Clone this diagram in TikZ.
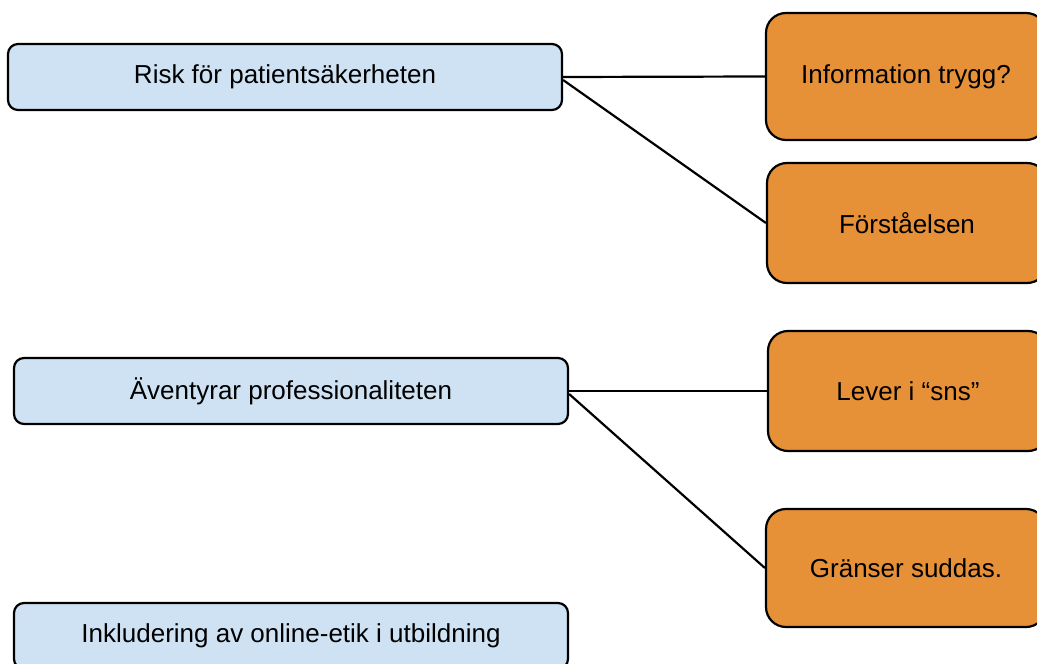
\documentclass[tikz,border=0pt]{standalone}
\usepackage{fontspec}
\setmainfont{Liberation Sans}
\usetikzlibrary{positioning}
\definecolor{riskblue}{RGB}{207, 226, 243}
\definecolor{causeorange}{RGB}{230, 145, 56}

\begin{document}
\begin{tikzpicture}[
        x=0.5pt, y=-0.5pt,
        topic/.style={rectangle, draw, line width=1.1pt, rounded corners=5pt, fill=riskblue, minimum width=277pt, minimum height=33pt, inner sep=0pt, font=\fontsize{13}{15}\selectfont},
        cause/.style={rectangle, draw, line width=1.1pt, rounded corners=10pt, fill=causeorange, minimum width=140pt, minimum height=60pt, inner sep=0pt, font=\fontsize{13}{15}\selectfont},
        link/.style={line width=1.1pt}
    ]
        \useasboundingbox (0,0) rectangle (1037,663);
        \clip (0,0) rectangle (1037,663);

        \node[topic] (risk) at (285,77) {\raisebox{-1pt}{Risk för patientsäkerheten}};
        \node[topic] (prof) at (291,391) {\raisebox{-1pt}{Äventyrar professionaliteten}};
        \node[topic] (etik) at (291,636) {\raisebox{-1pt}{Inkludering av online-etik i utbildning}};

        \node[cause, minimum height=63.5pt] (info) at (906,76.5) {\raisebox{-1pt}{Information trygg?}};
        \node[cause] (forst) at (907,223) {\raisebox{-1pt}{Förståelsen}};
        \node[cause] (lever) at (908,391) {\raisebox{-1pt}{Lever i “sns”}};
        \node[cause, minimum height=59pt] (grans) at (906,568) {\raisebox{-1pt}{Gränser suddas.}};

        \draw[link] (risk.east) -- (info.west);
        \draw[link] ([yshift=-1.5pt]risk.east) -- (forst.west);
        \draw[link] (prof.east) -- (lever.west);
        \draw[link] ([yshift=-1.5pt]prof.east) -- (grans.west);
    \end{tikzpicture}
\end{document}
